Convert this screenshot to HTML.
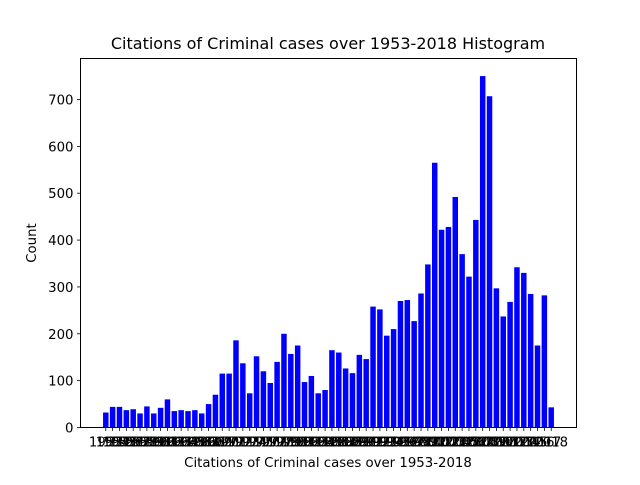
<!DOCTYPE html>
<html><head><meta charset="utf-8"><style>
body{margin:0;background:#fff;}
svg text{font-family:"DejaVu Sans","Liberation Sans",sans-serif;fill:#000;}
</style></head><body>
<svg id="chart" width="640" height="480" xmlns="http://www.w3.org/2000/svg">
<rect width="640" height="480" fill="#fff"/>
<text x="328" y="49" font-size="16" text-anchor="middle">Citations of Criminal cases over 1953-2018 Histogram</text>
<g id="bars"></g>
<g id="xticks"></g>
<g id="yticks"></g>
<rect x="80.5" y="58.5" width="496" height="369" fill="none" stroke="#000" stroke-width="1"/>
<text x="328" y="467" font-size="13.3" text-anchor="middle">Citations of Criminal cases over 1953-2018</text>
<text x="36" y="243" font-size="13.3" text-anchor="middle" transform="rotate(-90 36 243)">Count</text>
</svg>
<script>
const startYear = 1953;
const counts = [32,44,44,37,39,30,45,30,42,60,35,37,35,37,30,50,70,115,115,186,137,73,152,120,95,140,200,157,175,97,110,73,80,165,160,126,116,155,146,258,252,196,210,270,272,227,286,348,565,422,428,492,370,322,443,750,707,297,237,268,342,330,285,175,282,43];
const categories = counts.map((_, i) => String(startYear + i));
const yTicks = [0,100,200,300,400,500,600,700];

const L=80.5,R=576.5,T=58.5,B=427.5;
const n=counts.length;
const xmin=-0.4-0.05*(n-0.2), xmax=n-1+0.4+0.05*(n-0.2);
const ymax=Math.max(...counts)*1.05;
const xs=v=>L+(v-xmin)/(xmax-xmin)*(R-L);
const ys=v=>B-v/ymax*(B-T);
const NS="http://www.w3.org/2000/svg";
const bars=document.getElementById('bars'),xt=document.getElementById('xticks'),yt=document.getElementById('yticks');
function mk(t,a){const e=document.createElementNS(NS,t);for(const k in a)e.setAttribute(k,a[k]);return e;}
counts.forEach((c,i)=>{
  const x0=xs(i-0.4),x1=xs(i+0.4);
  const r=mk('rect',{x:x0,y:ys(c),width:x1-x0,height:B-ys(c),fill:'#0000ff'});
  
  
  bars.appendChild(r);
  const g=mk('g',{});
  
  
  g.appendChild(mk('line',{x1:xs(i),x2:xs(i),y1:B,y2:B+3.5,stroke:'#000','stroke-width':0.8}));
  const t=mk('text',{x:xs(i),y:B+19,'font-size':13.3,'text-anchor':'middle'});
  t.textContent=categories[i];
  g.appendChild(t);
  xt.appendChild(g);
});
yTicks.forEach(v=>{
  const g=mk('g',{});
  
  
  g.appendChild(mk('line',{x1:L-3.5,x2:L,y1:ys(v),y2:ys(v),stroke:'#000','stroke-width':0.8}));
  const t=mk('text',{x:L-7,y:ys(v)+5,'font-size':13.3,'text-anchor':'end'});
  t.textContent=v;
  g.appendChild(t);
  yt.appendChild(g);
});
</script>
</body></html>
